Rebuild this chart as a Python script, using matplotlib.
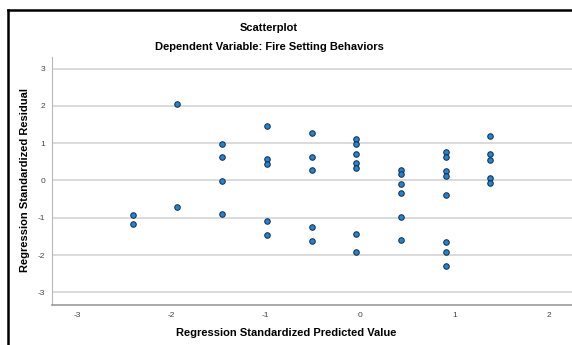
import matplotlib
matplotlib.use('agg')
import matplotlib.pyplot as plt

plt.rcParams['font.family'] = ['Liberation Sans', 'DejaVu Sans']
plt.rcParams['axes.unicode_minus'] = False

# predicted value groups and their residuals
pred_x = [-2.41, -2.41,
          -1.94, -1.94,
          -1.47, -1.47, -1.47, -1.47,
          -0.99, -0.99, -0.99, -0.99, -0.99,
          -0.51, -0.51, -0.51, -0.51, -0.51,
          -0.04, -0.04, -0.04, -0.04, -0.04, -0.04, -0.04,
          0.44, 0.44, 0.44, 0.44, 0.44, 0.44,
          0.91, 0.91, 0.91, 0.91, 0.91, 0.91, 0.91, 0.91,
          1.38, 1.38, 1.38, 1.38, 1.38]
resid_y = [-0.92, -1.17,
           2.06, -0.72,
           0.99, 0.62, -0.01, -0.90,
           1.45, 0.57, 0.44, -1.08, -1.46,
           1.28, 0.64, 0.27, -1.24, -1.63,
           1.11, 0.97, 0.72, 0.47, 0.34, -1.43, -1.93,
           0.29, 0.16, -0.10, -0.35, -0.98, -1.61,
           0.75, 0.62, 0.24, 0.12, -0.40, -1.66, -1.91, -2.29,
           1.19, 0.70, 0.56, 0.06, -0.07]

xticks = [-3, -2, -1, 0, 1, 2]
yticks = [-3, -2, -1, 0, 1, 2, 3]

fig = plt.figure(figsize=(5.72, 3.45), dpi=100)
ax = fig.add_axes([52 / 572, 1 - 305 / 345, 1 - 52 / 572, (305 - 57) / 345])

ax.scatter(pred_x, resid_y, s=16, color='#1e84d8', edgecolors='#1a2a3a',
           linewidths=0.7, zorder=3)

ax.set_xlim(-3.27, 2.25)
ax.set_ylim(-3.34, 3.31)
ax.set_xticks(xticks)
ax.set_yticks(yticks)
ax.tick_params(length=0, labelsize=6, colors='#444444', pad=5)
ax.yaxis.grid(True, color='#d4d4d4', linewidth=1.2)
ax.set_axisbelow(True)
for s in ['top', 'right']:
    ax.spines[s].set_visible(False)
ax.spines['left'].set_color('#b8b8b8')
ax.spines['bottom'].set_color('#999999')
ax.spines['bottom'].set_linewidth(1.2)

fig.text(269 / 572, 1 - 28 / 345, 'Scatterplot', ha='center', va='center',
         fontsize=8, fontweight='bold')
fig.text(269 / 572, 1 - 47 / 345, 'Dependent Variable: Fire Setting Behaviors',
         ha='center', va='center', fontsize=8, fontweight='bold')
fig.text(286 / 572, 1 - 333 / 345, 'Regression Standardized Predicted Value',
         ha='center', va='center', fontsize=8, fontweight='bold')
fig.text(25 / 572, 1 - 180 / 345, 'Regression Standardized Residual',
         ha='center', va='center', fontsize=8, fontweight='bold', rotation=90)

# border of the cropped SPSS frame
fig.add_artist(plt.Line2D([8 / 572, 8 / 572], [0, 1 - 10 / 345],
                          color='black', linewidth=1.8, transform=fig.transFigure))
fig.add_artist(plt.Line2D([8 / 572, 1], [1 - 10 / 345, 1 - 10 / 345],
                          color='black', linewidth=1.8, transform=fig.transFigure))

plt.savefig('out.png', dpi=100)
